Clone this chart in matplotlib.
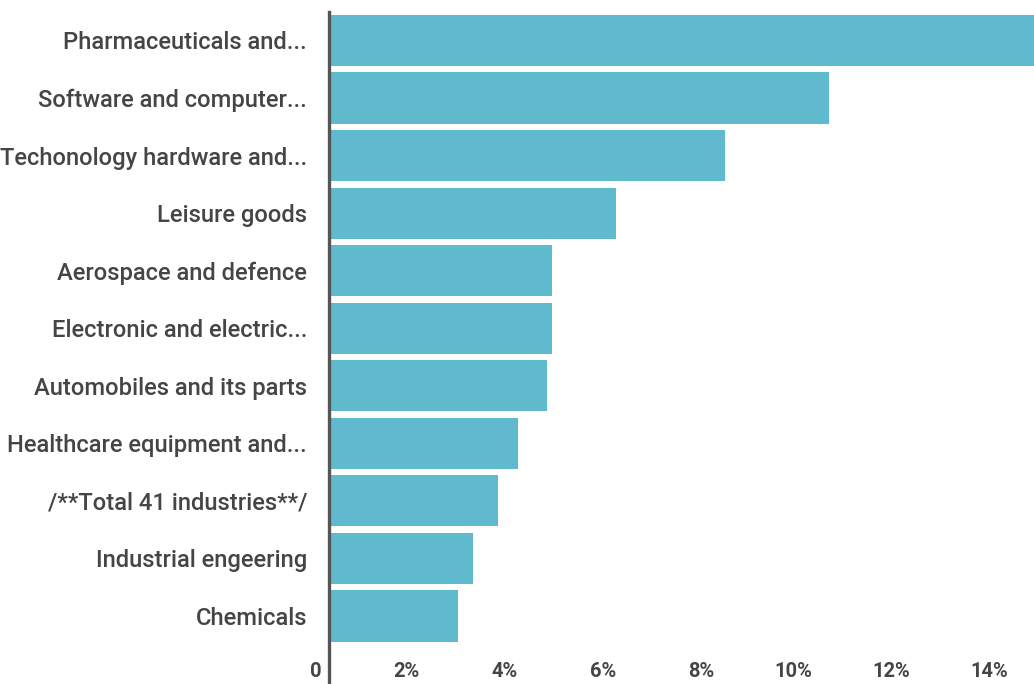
import matplotlib
matplotlib.use("Agg")
import matplotlib.pyplot as plt
from matplotlib.lines import Line2D
import matplotlib.transforms as mtransforms

categories = [
    "Pharmaceuticals and...",
    "Software and computer...",
    "Techonology hardware and...",
    "Leisure goods",
    "Aerospace and defence",
    "Electronic and electric...",
    "Automobiles and its parts",
    "Healthcare equipment and...",
    "/**Total 41 industries**/",
    "Industrial engeering",
    "Chemicals",
]
values = [15.0, 10.18, 8.06, 5.84, 4.53, 4.53, 4.43, 3.84, 3.43, 2.92, 2.61]
xticks = [0, 2, 4, 6, 8, 10, 12, 14]
xtick_labels = ["0", "2%", "4%", "6%", "8%", "10%", "12%", "14%"]

W, H = 1034, 684
fig = plt.figure(figsize=(W / 100, H / 100), dpi=100)
left, right, top, bottom = 330, 1034, 12, 652
ax = fig.add_axes([left / W, 1 - bottom / H, (right - left) / W, (bottom - top) / H])

bar_color = "#5fbacd"
text_color = "#454545"
font = "Roboto"

y = list(range(len(categories)))
ax.barh(y, values, height=0.89, color=bar_color, left=0)
ax.set_xlim(0, (right - left) / 49.0)
ax.set_ylim(10.626, -0.495)

ax.set_yticks(y)
ax.set_yticklabels(categories, fontsize=17.1, color=text_color, fontfamily=font, fontweight="medium")
ax.tick_params(axis="y", length=0, pad=16.5)

ax.set_xticks(xticks)
ax.set_xticklabels(xtick_labels, fontsize=14.5, color=text_color, fontfamily=font, fontweight="bold")
ax.tick_params(axis="x", length=0, pad=7)
for lab in ax.get_xticklabels():
    lab.set_horizontalalignment("right")
    lab.set_transform(lab.get_transform() + mtransforms.ScaledTranslation(-8 / 100, 0, fig.dpi_scale_trans))

for s in ax.spines.values():
    s.set_visible(False)

fig.add_artist(Line2D([left / W - 0.0005, left / W - 0.0005], [0, 1 - top / H],
                      transform=fig.transFigure, color="#555555", linewidth=2.4))

fig.savefig("out.png", dpi=100)
